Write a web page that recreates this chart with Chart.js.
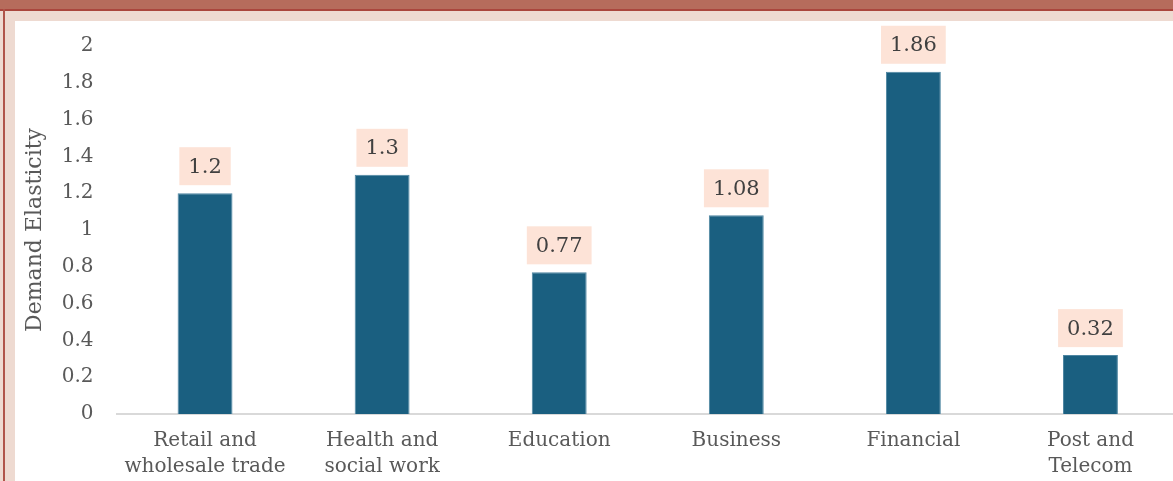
<!DOCTYPE html>
<html>
<head>
<meta charset="utf-8">
<script src="https://cdn.jsdelivr.net/npm/chart.js@4.4.1/dist/chart.umd.min.js"></script>
<style>
  html, body { margin: 0; padding: 0; width: 1173px; height: 481px; overflow: hidden; background: #fff; }
  .band-top { position: absolute; left: 0; top: 0; width: 1173px; height: 9px; background: #b66c5c; }
  .band-line { position: absolute; left: 0; top: 9px; width: 1173px; height: 2px; background: #aa463d; }
  .band-pink { position: absolute; left: 0; top: 11px; width: 1173px; height: 10px; background: #eedad1; }
  .side-pink { position: absolute; left: 0; top: 11px; width: 15px; height: 470px; background: #eedad1; }
  .side-line { position: absolute; left: 3px; top: 9px; width: 2px; height: 472px; background: #b0544a; }
  #wrap { position: absolute; left: 15px; top: 11px; width: 1164px; height: 501px; }
</style>
</head>
<body>
<div class="band-top"></div>
<div class="band-line"></div>
<div class="band-pink"></div>
<div class="side-pink"></div>
<div class="side-line"></div>
<div id="wrap"><canvas id="chart"></canvas></div>
<script>
// Sectors and their demand elasticities
const sectors = [
  ['Retail and', 'wholesale trade'],
  ['Health and', 'social work'],
  'Education',
  'Business',
  'Financial',
  ['Post and', 'Telecom']
];
const elasticity = [1.2, 1.3, 0.77, 1.08, 1.86, 0.32];
const yTicks = [0, 0.2, 0.4, 0.6, 0.8, 1, 1.2, 1.4, 1.6, 1.8, 2];

const FONT = "'DejaVu Serif', 'Liberation Serif', serif";

// value boxes drawn above each bar
const valueBoxes = {
  id: 'valueBoxes',
  afterDatasetsDraw(chart) {
    const ctx = chart.ctx;
    const meta = chart.getDatasetMeta(0);
    ctx.save();
    ctx.font = '21px ' + FONT;
    ctx.textAlign = 'center';
    ctx.textBaseline = 'middle';
    meta.data.forEach((bar, i) => {
      const text = String(chart.data.datasets[0].data[i]);
      const w = ctx.measureText(text).width + 18;
      const h = 38;
      const top = bar.y - 8 - h;
      ctx.fillStyle = '#fde3d7';
      ctx.fillRect(bar.x - w / 2, top, w, h);
      ctx.fillStyle = '#404040';
      ctx.fillText(text, bar.x, top + h / 2 + 1);
    });
    ctx.restore();
  }
};

new Chart(document.getElementById('chart'), {
  type: 'bar',
  data: {
    labels: sectors,
    datasets: [{
      data: elasticity,
      backgroundColor: '#1a5f80',
      borderColor: '#4e86a2',
      borderWidth: 1,
      barPercentage: 0.31,
      categoryPercentage: 1
    }]
  },
  options: {
    responsive: true,
    maintainAspectRatio: false,
    animation: false,
    layout: { padding: { top: 2, right: 0, bottom: 18, left: 0 } },
    plugins: {
      legend: { display: false },
      tooltip: { enabled: false }
    },
    scales: {
      x: {
        grid: { display: false, drawTicks: false },
        border: { color: '#d9d9d9', width: 2 },
        ticks: {
          color: '#595959',
          font: { family: FONT, size: 20, lineHeight: 1.3 },
          padding: 14,
          maxRotation: 0,
          autoSkip: false
        }
      },
      y: {
        min: 0,
        max: 2,
        afterBuildTicks(scale) {
          scale.ticks = yTicks.map(v => ({ value: v }));
        },
        afterFit(scale) { scale.width = 101.5; },
        grid: { display: false, drawTicks: false },
        border: { display: false },
        ticks: {
          color: '#595959',
          font: { family: FONT, size: 20 },
          padding: 23,
          callback: v => String(Number(v.toFixed(1)))
        },
        title: {
          display: true,
          text: 'Demand Elasticity',
          color: '#595959',
          font: { family: FONT, size: 22 },
          padding: { top: 7, bottom: 0 }
        }
      }
    }
  },
  plugins: [valueBoxes]
});
</script>
</body>
</html>
